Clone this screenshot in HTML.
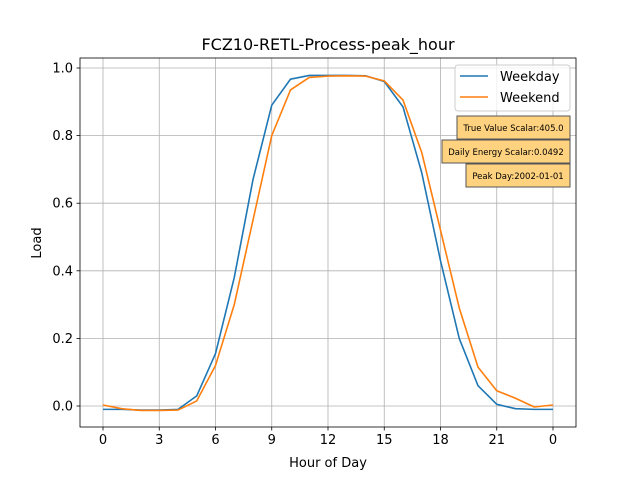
<!DOCTYPE html>
<html><head><meta charset="utf-8"><style>
body{margin:0;background:#fff;font-family:"Liberation Sans","DejaVu Sans",sans-serif}
svg text{font-family:"DejaVu Sans","Liberation Sans",sans-serif}
</style></head><body>
<svg id="c" width="640" height="480" xmlns="http://www.w3.org/2000/svg"></svg>
<script>
const hours=[0,1,2,3,4,5,6,7,8,9,10,11,12,13,14,15,16,17,18,19,20,21,22,23,24];
const weekday=[-0.01,-0.01,-0.012,-0.012,-0.01,0.03,0.155,0.38,0.67,0.89,0.967,0.978,0.978,0.978,0.977,0.96,0.885,0.69,0.43,0.2,0.06,0.005,-0.008,-0.01,-0.01];
const weekend=[0.003,-0.008,-0.013,-0.013,-0.012,0.015,0.12,0.3,0.55,0.8,0.935,0.972,0.976,0.977,0.976,0.962,0.905,0.75,0.52,0.29,0.115,0.045,0.023,-0.003,0.003];
const xTicks=[0,3,6,9,12,15,18,21,24];
const xTickLabels=["0","3","6","9","12","15","18","21","0"];
const yTicks=[0,0.2,0.4,0.6,0.8,1.0];
const yTickLabels=["0.0","0.2","0.4","0.6","0.8","1.0"];
const annotations=["True Value Scalar:405.0","Daily Energy Scalar:0.0492","Peak Day:2002-01-01"];
const L=80,R=576,T=58,B=427;
const x=v=>103+v*18.75;
const y=v=>406-v*338;
const svg=document.getElementById('c');
const NS="http://www.w3.org/2000/svg";
function el(t,a,txt){const e=document.createElementNS(NS,t);for(const k in a)e.setAttribute(k,a[k]);if(txt!==undefined)e.textContent=txt;svg.appendChild(e);return e;}
xTicks.forEach((v,i)=>{
 const g=el('line',{x1:x(v),x2:x(v),y1:T,y2:B,stroke:'#b0b0b0','stroke-width':0.8});
 
 el('line',{x1:x(v),x2:x(v),y1:B,y2:B+3.5,stroke:'#000','stroke-width':0.8});
 const t=el('text',{x:x(v),y:B+17,'font-size':13,'text-anchor':'middle'},xTickLabels[i]);
 
});
yTicks.forEach((v,i)=>{
 const g=el('line',{x1:L,x2:R,y1:y(v),y2:y(v),stroke:'#b0b0b0','stroke-width':0.8});
 
 el('line',{x1:L-3.5,x2:L,y1:y(v),y2:y(v),stroke:'#000','stroke-width':0.8});
 const t=el('text',{x:L-7,y:y(v)+4.5,'font-size':13,'text-anchor':'end'},yTickLabels[i]);
 
});
function line(vals,color,name){
 const p=el('polyline',{points:vals.map((v,i)=>x(hours[i])+','+y(v)).join(' '),fill:'none',stroke:color,'stroke-width':1.6,'stroke-linejoin':'round'});
 
}
line(weekday,'#1f77b4','weekday-line');
line(weekend,'#ff7f0e','weekend-line');
const f=el('rect',{x:L,y:T,width:R-L,height:B-T,fill:'none',stroke:'#000','stroke-width':0.8});

const ti=el('text',{x:328,y:50,'font-size':16,'text-anchor':'middle'},'FCZ10-RETL-Process-peak_hour');

const xl=el('text',{x:328,y:467,'font-size':13,'text-anchor':'middle'},'Hour of Day');

const yl=el('text',{x:41,y:243,'font-size':13,'text-anchor':'middle',transform:'rotate(-90 41 243)'},'Load');

const lg=el('rect',{x:455,y:65,width:115,height:46,rx:3,fill:'#fff','fill-opacity':0.8,stroke:'#ccc'});

[['Weekday','#1f77b4',76],['Weekend','#ff7f0e',97]].forEach(([n,c,yy])=>{
 el('line',{x1:460,x2:488,y1:yy,y2:yy,stroke:c,'stroke-width':1.6});
 const t=el('text',{x:500,y:yy+5,'font-size':13},n);
 
});
const boxes=[[457,116,113],[442,140,128],[466,164,104]];
annotations.forEach((a,i)=>{
 const [bx,by,bw]=boxes[i];
 const r=el('rect',{x:bx,y:by,width:bw,height:23,fill:'#ffd27f',stroke:'#555','stroke-width':1});
 
 const t=el('text',{x:bx+bw/2,y:by+15,'font-size':8.5,'text-anchor':'middle'},a);
 
});
</script>
</body></html>
